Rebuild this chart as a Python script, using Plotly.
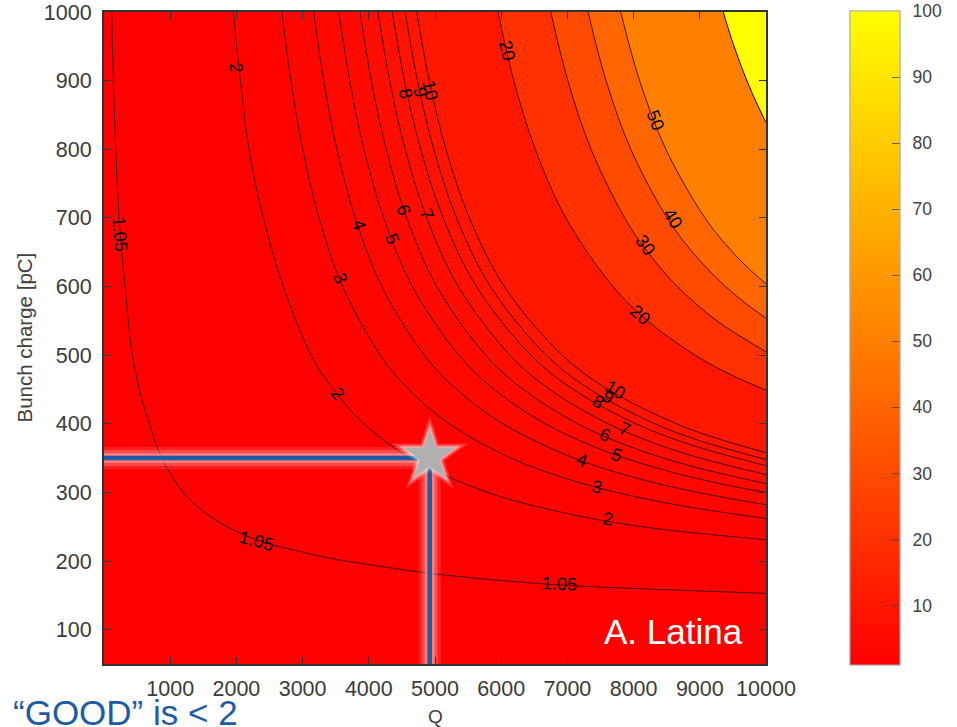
import plotly.graph_objects as go
from plotly.colors import sample_colorscale

# ---------------- data ----------------
levels = [1.05, 2, 3, 4, 5, 6, 7, 8, 9, 10, 20, 30, 40, 50, 100]

# contour lines: Q (x) and bunch charge in pC (y)
Q_1_05 = [116, 141, 177, 227, 317, 428, 560, 685, 871, 1198, 1650, 2300, 2960, 3414, 4200, 4924, 6737, 8300, 10000]
charge_1_05 = [1000, 900, 800, 700, 600, 500, 440, 400, 350, 300, 262, 231, 214, 204, 192, 182, 166, 159, 153]

Q_2 = [1953, 2060, 2190, 2407, 2710, 3130, 3463, 3930, 4630, 5797, 6963, 8130, 10000]
charge_2 = [1000, 900, 800, 700, 600, 500, 450, 400, 350, 300, 270, 250, 231]

Q_3 = [2686, 2823, 3002, 3248, 3606, 4174, 4605, 5216, 6148, 6987, 7745, 8757, 10000]
charge_3 = [1000, 900, 800, 700, 600, 500, 450, 400, 350, 320, 300, 280, 262]

Q_4 = [3167, 3319, 3519, 3795, 4196, 4838, 5328, 6026, 7101, 8079, 8973, 10000]
charge_4 = [1000, 900, 800, 700, 600, 500, 450, 400, 350, 320, 300, 282]

Q_5 = [3547, 3711, 3927, 4225, 4660, 5360, 5897, 6668, 7577, 8557, 9444, 10000]
charge_5 = [1000, 900, 800, 700, 600, 500, 450, 400, 360, 330, 310, 300]

Q_6 = [3868, 4038, 4263, 4573, 5029, 5766, 6336, 7158, 7855, 8804, 10000]
charge_6 = [1000, 900, 800, 700, 600, 500, 450, 400, 370, 340, 313]

Q_7 = [4139, 4316, 4550, 4875, 5353, 6131, 6735, 7615, 8365, 9012, 10000]
charge_7 = [1000, 900, 800, 700, 600, 500, 450, 400, 370, 350, 326]

Q_8 = [4355, 4539, 4784, 5123, 5626, 6449, 7093, 8036, 8847, 10000]
charge_8 = [1000, 900, 800, 700, 600, 500, 450, 400, 370, 339]

Q_9 = [4549, 4735, 4982, 5326, 5838, 6680, 7343, 8323, 9012, 10000]
charge_9 = [1000, 900, 800, 700, 600, 500, 450, 400, 375, 348]

Q_10 = [4723, 4913, 5166, 5520, 6048, 6922, 7616, 8649, 9219, 10000]
charge_10 = [1000, 900, 800, 700, 600, 500, 450, 400, 380, 358]

Q_20 = [5951, 6191, 6515, 6977, 7689, 8212, 8928, 9501, 10000]
charge_20 = [1000, 900, 800, 700, 600, 550, 500, 470, 449]

Q_30 = [6749, 7007, 7358, 7865, 8214, 8662, 9259, 10000]
charge_30 = [1000, 900, 800, 700, 650, 600, 550, 505]

Q_40 = [7312, 7584, 7958, 8507, 8889, 9388, 9767, 10000]
charge_40 = [1000, 900, 800, 700, 650, 600, 570, 554]

Q_50 = [7805, 8091, 8488, 9078, 9497, 9808, 10000]
charge_50 = [1000, 900, 800, 700, 650, 620, 604]

Q_100 = [9355, 9484, 9631, 9800, 10000]
charge_100 = [1000, 960, 920, 880, 839]

# inline contour labels
label_text = ["1.05", "1.05", "1.05", "2", "2", "2", "3", "3", "4", "4", "5", "5",
              "6", "6", "7", "7", "8", "8", "9", "9", "10", "10", "20", "20",
              "30", "40", "50"]
label_Q = [242, 2306, 6888, 2004, 3539, 7618, 3565, 7442, 3842, 7216, 4345, 7745,
           4521, 7568, 4874, 7870, 4562, 7467, 4773, 7618, 4924, 7719, 6083, 8097,
           8172, 8600, 8323]
label_charge = [677, 229, 166, 919, 444, 262, 612, 308, 689, 347, 670, 355,
                711, 384, 706, 393, 881, 432, 883, 439, 886, 449, 944, 558,
                660, 699, 842]
label_angle = [85, 15, 3, 85, 52, 10, 68, 15, 72, 20, 69, 20,
               71, 24, 70, 24, 78, 30, 78, 31, 78, 32, 77, 42,
               54, 57, 69]

# highlighted working point
point_Q = 4920
point_charge = 350

x_ticks = [1000, 2000, 3000, 4000, 5000, 6000, 7000, 8000, 9000, 10000]
y_ticks = [100, 200, 300, 400, 500, 600, 700, 800, 900, 1000]
cbar_ticks = [10, 20, 30, 40, 50, 60, 70, 80, 90, 100]

# ---------------- figure ----------------
FONT = "Liberation Sans, Arial, sans-serif"
colorscale = [[0, "rgb(255,0,0)"], [0.5, "rgb(255,128,0)"], [1, "rgb(255,255,0)"]]
zmin, zmax = 1, 100


def band_color(v):
    return sample_colorscale(colorscale, [(v - zmin) / (zmax - zmin)])[0]


contours = [
    (1.05, Q_1_05, charge_1_05), (2, Q_2, charge_2), (3, Q_3, charge_3),
    (4, Q_4, charge_4), (5, Q_5, charge_5), (6, Q_6, charge_6),
    (7, Q_7, charge_7), (8, Q_8, charge_8), (9, Q_9, charge_9),
    (10, Q_10, charge_10), (20, Q_20, charge_20), (30, Q_30, charge_30),
    (40, Q_40, charge_40), (50, Q_50, charge_50), (100, Q_100, charge_100),
]

LINE = dict(color="rgba(0,0,0,0.8)", width=0.9, shape="spline", smoothing=1)

fig = go.Figure()

prev_level = None
for lvl, xs, ys in contours:
    kw = {}
    if prev_level is not None:
        kw = dict(fill="tonexty", fillcolor=band_color(prev_level))
    fig.add_trace(go.Scatter(x=xs, y=ys, mode="lines", line=LINE,
                             hoverinfo="skip", showlegend=False, **kw))
    prev_level = lvl

# region above the highest level
fig.add_trace(go.Scatter(
    x=Q_100 + [x_ticks[-1]], y=charge_100 + [y_ticks[-1]], mode="lines",
    fill="toself", fillcolor=band_color(100), line=dict(width=0),
    hoverinfo="skip", showlegend=False))
fig.add_trace(go.Scatter(x=Q_100, y=charge_100, mode="lines", line=LINE,
                         hoverinfo="skip", showlegend=False))

# colour bar: labels (pushed out by invisible ticks) + visible inside ticks on top
cb_common = dict(x=(850 - 104) / 662, xanchor="left", xpad=0, ypad=0,
                 y=0.5, yanchor="middle", thickness=50, thicknessmode="pixels",
                 len=654, lenmode="pixels", outlinecolor="#b0b0b0", outlinewidth=1,
                 tickvals=cbar_ticks)
fig.add_trace(go.Scatter(
    x=[None], y=[None], mode="markers",
    marker=dict(color=[zmin], colorscale=colorscale, cmin=zmin, cmax=zmax, showscale=True,
                colorbar=dict(ticks="outside", ticklen=9, tickcolor="rgba(0,0,0,0)",
                              tickfont=dict(family=FONT, size=17.5, color="#404040"),
                              **cb_common)),
    hoverinfo="skip", showlegend=False))
fig.add_trace(go.Scatter(
    x=[None], y=[None], mode="markers",
    marker=dict(color=[zmin], colorscale=colorscale, cmin=zmin, cmax=zmax, showscale=True,
                colorbar=dict(ticks="inside", ticklen=8, tickcolor="rgba(70,70,70,0.8)",
                              showticklabels=False, **cb_common)),
    hoverinfo="skip", showlegend=False))

# highlighted guide lines with glow
guide_x = [0, point_Q, point_Q]
guide_y = [point_charge, point_charge, 50]
for w, c in [(22, "rgba(255,255,255,0.12)"), (16, "rgba(255,255,255,0.18)"),
             (10, "rgba(255,255,255,0.28)"), (4.5, "#1d5ba5")]:
    fig.add_trace(go.Scatter(x=guide_x, y=guide_y, mode="lines",
                             line=dict(color=c, width=w), hoverinfo="skip",
                             showlegend=False))

# star with glow
for s, c in [(58, "rgba(255,255,255,0.18)"), (50, "rgba(255,255,255,0.3)"),
             (44, "rgba(255,255,255,0.4)"), (39, "#b0b0b0")]:
    fig.add_trace(go.Scatter(x=[point_Q], y=[point_charge + 3], mode="markers",
                             marker=dict(symbol="star", size=s, color=c, line=dict(width=0)),
                             hoverinfo="skip", showlegend=False, cliponaxis=False))

annotations = []
for t, xq, yc, ang in zip(label_text, label_Q, label_charge, label_angle):
    annotations.append(dict(x=xq, y=yc, xref="x", yref="y", text=t, showarrow=False,
                            textangle=ang, font=dict(family=FONT, size=18, color="black")))

annotations += [
    dict(text="Bunch charge [pC]", x=(23.5 - 104) / 662, y=0.5, xref="paper", yref="paper",
         showarrow=False, textangle=-90, xanchor="center", yanchor="middle",
         font=dict(family=FONT, size=20.5, color="#404040")),
    dict(text="Q", x=0.5015, y=(664 - 716) / 652, xref="paper", yref="paper",
         showarrow=False, xanchor="center", yanchor="middle",
         font=dict(family=FONT, size=19, color="#404040")),
    dict(text="A. Latina", x=(673 - 104) / 662, y=(664 - 631) / 652, xref="paper", yref="paper",
         showarrow=False, xanchor="center", yanchor="middle",
         font=dict(family=FONT, size=35, color="white")),
    dict(text="\u201cGOOD\u201d is < 2", x=(11 - 104) / 662, y=(664 - 713) / 652,
         xref="paper", yref="paper", showarrow=False, xanchor="left", yanchor="middle",
         font=dict(family=FONT, size=35, color="#1d5ba5")),
]

axis_common = dict(showgrid=False, zeroline=False, showline=True, linecolor="#333333",
                   linewidth=2, mirror="allticks", ticks="inside", ticklen=7,
                   tickwidth=1, tickcolor="#333333",
                   tickfont=dict(family=FONT, size=21.5, color="#3a3a3a"))

fig.update_layout(
    width=957, height=727,
    margin=dict(l=104, r=191, t=12, b=63, autoexpand=False),
    paper_bgcolor="white",
    plot_bgcolor=band_color(1),
    font=dict(family=FONT),
    xaxis=dict(range=[0, 10000], tickvals=x_ticks, ticktext=[str(v) for v in x_ticks],
               ticklabelstandoff=4, **axis_common),
    yaxis=dict(range=[50, 1000], tickvals=y_ticks, ticktext=[str(v) for v in y_ticks],
               ticklabelstandoff=6, **axis_common),
    annotations=annotations,
)

fig.write_html("out.html")
